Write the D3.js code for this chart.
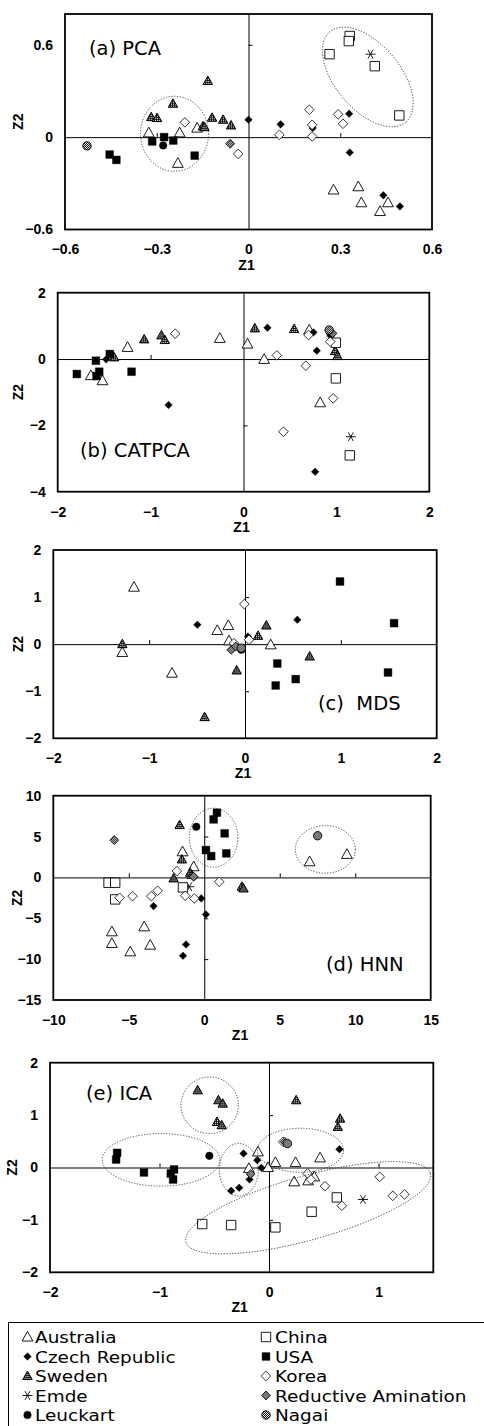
<!DOCTYPE html>
<html>
<head>
<meta charset="utf-8">
<script src="https://cdn.jsdelivr.net/npm/d3@7"></script>
<style>
  body { margin: 0; background: #fff; }
  .tick text { font-family: "Liberation Sans", Arial, sans-serif; font-size: 14px; font-weight: bold; }
</style>
</head>
<body>
<div id="container"></div>
<script>
/* CONSTANTS AND GLOBALS */
const width = 484,
  height = 1426

/* DATA */
const legendLeft = ["Australia", "Czech Republic", "Sweden", "Emde", "Leuckart"]
const legendRight = ["China", "USA", "Korea", "Reductive Amination", "Nagai"]
const drawOrder = ["Australia", "Czech Republic", "Sweden", "Emde", "Leuckart", "China", "USA", "Korea", "Reductive Amination", "Nagai"]

// [series, Z1, Z2]
const pcaPoints = [
  ["Australia", -0.326, 0.028], ["Australia", -0.225, 0.028], ["Australia", -0.168, 0.059], ["Australia", -0.231, -0.17],
  ["Australia", 0.278, -0.343], ["Australia", 0.359, -0.322], ["Australia", 0.369, -0.426], ["Australia", 0.43, -0.483], ["Australia", 0.456, -0.426],
  ["Czech Republic", 0.0, 0.113], ["Czech Republic", 0.105, 0.083], ["Czech Republic", 0.21, 0.06], ["Czech Republic", 0.329, 0.152],
  ["Czech Republic", 0.331, -0.1], ["Czech Republic", 0.441, -0.378], ["Czech Republic", 0.495, -0.45],
  ["Sweden", -0.133, 0.365], ["Sweden", -0.247, 0.217], ["Sweden", -0.318, 0.13], ["Sweden", -0.299, 0.124], ["Sweden", -0.119, 0.126],
  ["Sweden", -0.083, 0.113], ["Sweden", -0.057, 0.076], ["Sweden", -0.149, 0.07], ["Sweden", -0.144, 0.065],
  ["Emde", 0.399, 0.539],
  ["Leuckart", -0.279, -0.054],
  ["China", 0.331, 0.657], ["China", 0.328, 0.624], ["China", 0.265, 0.539], ["China", 0.413, 0.461], ["China", 0.493, 0.141],
  ["USA", -0.454, -0.113], ["USA", -0.432, -0.148], ["USA", -0.315, -0.028], ["USA", -0.276, 0.0], ["USA", -0.246, -0.022], ["USA", -0.176, -0.12],
  ["Korea", -0.208, 0.096], ["Korea", -0.034, -0.109], ["Korea", 0.101, 0.015], ["Korea", 0.199, 0.178], ["Korea", 0.208, 0.08],
  ["Korea", 0.208, 0.004], ["Korea", 0.293, 0.148], ["Korea", 0.309, 0.087],
  ["Reductive Amination", -0.06, -0.043],
  ["Nagai", -0.528, -0.057]
]

const catpcaPoints = [
  ["Australia", -1.248, 0.352], ["Australia", -1.518, -0.653], ["Australia", -1.643, -0.5], ["Australia", -0.255, 0.623],
  ["Australia", 0.043, 0.452], ["Australia", 0.222, -0.01], ["Australia", 0.707, 0.874], ["Australia", 0.825, -1.317],
  ["Czech Republic", -1.478, -0.01], ["Czech Republic", -0.807, -1.387], ["Czech Republic", 0.258, 0.945], ["Czech Republic", 0.753, 0.804],
  ["Czech Republic", 0.789, 0.251], ["Czech Republic", 0.94, 0.693], ["Czech Republic", 0.771, -3.397],
  ["Sweden", -1.392, 0.05], ["Sweden", -1.069, 0.593], ["Sweden", -0.883, 0.714], ["Sweden", -0.847, 0.573],
  ["Sweden", 0.122, 0.925], ["Sweden", 0.545, 0.905], ["Sweden", 0.987, 0.241], ["Sweden", 1.012, 0.09],
  ["Emde", 1.155, -2.342],
  ["Leuckart", 0.93, 0.8],
  ["China", 0.994, 0.492], ["China", 0.994, -0.583], ["China", 1.144, -2.905],
  ["USA", -1.794, -0.452], ["USA", -1.589, -0.05], ["USA", -1.553, -0.382], ["USA", -1.582, -0.513], ["USA", -1.439, 0.151], ["USA", -1.205, -0.382],
  ["Korea", -0.735, 0.764], ["Korea", 0.359, 0.111], ["Korea", 0.671, -0.201], ["Korea", 0.7, 0.724],
  ["Korea", 0.933, 0.523], ["Korea", 0.965, -1.186], ["Korea", 0.43, -2.191],
  ["Reductive Amination", 0.958, 0.774],
  ["Nagai", 0.922, 0.874]
]

const mdsPoints = [
  ["Australia", -1.158, 1.211], ["Australia", -0.289, 0.29], ["Australia", -0.174, 0.396], ["Australia", 0.268, -0.014],
  ["Australia", -0.762, -0.616], ["Australia", -1.28, -0.177], ["Australia", -0.167, 0.071],
  ["Czech Republic", -0.497, 0.411], ["Czech Republic", 0.546, 0.517], ["Czech Republic", 0.031, 0.163],
  ["Sweden", -1.28, 0.0], ["Sweden", -0.421, -1.55], ["Sweden", -0.087, -0.559], ["Sweden", 0.223, 0.396], ["Sweden", 0.136, 0.177], ["Sweden", 0.675, -0.262],
  ["Leuckart", -0.038, -0.12],
  ["USA", 0.991, 1.331], ["USA", 1.555, 0.446], ["USA", 1.492, -0.602], ["USA", 0.337, -0.411], ["USA", 0.529, -0.743], ["USA", 0.32, -0.878],
  ["Korea", -0.007, 0.85], ["Korea", -0.115, 0.021], ["Korea", 0.042, 0.092],
  ["Reductive Amination", -0.143, -0.12], ["Reductive Amination", -0.097, -0.05],
  ["Nagai", -0.038, -0.085]
]

const hnnPoints = [
  ["Australia", -1.44, 3.14], ["Australia", -0.7, 1.31], ["Australia", -6.12, -6.65], ["Australia", -6.12, -8.08], ["Australia", -4.9, -9.1],
  ["Australia", -3.98, -6.04], ["Australia", -3.58, -8.29], ["Australia", 6.98, 1.92], ["Australia", 9.45, 2.82],
  ["Czech Republic", -3.36, -3.51], ["Czech Republic", -0.2, -2.57], ["Czech Republic", 0.11, -4.53], ["Czech Republic", -1.21, -8.2], ["Czech Republic", -1.41, -9.59],
  ["Sweden", -1.63, 6.41], ["Sweden", -1.48, 2.2], ["Sweden", -2.03, -0.12], ["Sweden", -0.93, 0.57], ["Sweden", -0.82, 0.29], ["Sweden", 2.49, -1.14], ["Sweden", 2.6, -1.35],
  ["Emde", -0.99, -1.14],
  ["Leuckart", -0.53, 6.2],
  ["China", -6.34, -0.65], ["China", -5.9, -0.65], ["China", -5.9, -2.69], ["China", -1.41, -1.22],
  ["USA", 0.84, 7.92], ["USA", 0.62, 7.1], ["USA", 1.35, 5.39], ["USA", 0.11, 3.35], ["USA", 0.46, 2.61], ["USA", 1.46, 2.94],
  ["Korea", -5.61, -2.49], ["Korea", -4.75, -2.29], ["Korea", -3.51, -2.29], ["Korea", -3.09, -1.63],
  ["Korea", -1.81, 0.78], ["Korea", -1.26, -2.24], ["Korea", -0.66, -2.57], ["Korea", 0.99, -0.53],
  ["Reductive Amination", -5.96, 4.57], ["Reductive Amination", -0.7, 0.08],
  ["Nagai", 7.51, 5.1]
]

const icaPoints = [
  ["Australia", -0.101, 0.298], ["Australia", -0.184, -0.019], ["Australia", -0.009, 0.0], ["Australia", 0.058, 0.095], ["Australia", 0.242, 0.095],
  ["Australia", 0.466, 0.184], ["Australia", 0.23, -0.273], ["Australia", 0.358, -0.254], ["Australia", 0.413, -0.178],
  ["Czech Republic", -0.233, 0.267], ["Czech Republic", -0.107, 0.14], ["Czech Republic", -0.07, -0.006], ["Czech Republic", -0.178, -0.229],
  ["Czech Republic", -0.346, -0.444], ["Czech Republic", -0.273, -0.387], ["Czech Republic", 0.643, 0.349],
  ["Sweden", -0.652, 1.473], ["Sweden", -0.462, 1.283], ["Sweden", -0.423, 1.219], ["Sweden", -0.475, 0.87], ["Sweden", -0.432, 0.806],
  ["Sweden", 0.248, 1.283], ["Sweden", 0.649, 0.933], ["Sweden", 0.628, 0.775],
  ["Emde", 0.858, -0.61],
  ["Leuckart", -0.545, 0.222],
  ["China", -0.61, -1.079], ["China", -0.346, -1.098], ["China", 0.058, -1.143], ["China", 0.389, -0.844], ["China", 0.619, -0.571],
  ["USA", -1.387, 0.279], ["USA", -1.396, 0.152], ["USA", -1.142, -0.095], ["USA", -0.867, -0.038], ["USA", -0.897, -0.114], ["USA", -0.876, -0.229],
  ["Korea", 0.352, -0.114], ["Korea", 0.383, -0.229], ["Korea", 0.511, -0.356], ["Korea", 0.665, -0.73],
  ["Korea", 1.011, -0.178], ["Korea", 1.13, -0.54], ["Korea", 1.237, -0.514], ["Korea", 0.129, 0.489],
  ["Reductive Amination", -0.168, -0.127], ["Reductive Amination", 0.144, 0.489],
  ["Nagai", 0.168, 0.457]
]

// tick values
const pcaXTicks = [-0.6, -0.3, 0, 0.3, 0.6], pcaYTicks = [-0.6, 0, 0.6]
const catpcaXTicks = [-2, -1, 0, 1, 2], catpcaYTicks = [-4, -2, 0, 2]
const mdsXTicks = [-2, -1, 0, 1, 2], mdsYTicks = [-2, -1, 0, 1, 2]
const hnnXTicks = [-10, -5, 0, 5, 10, 15], hnnYTicks = [-15, -10, -5, 0, 5, 10]
const icaXTicks = [-2, -1, 0, 1], icaYTicks = [-2, -1, 0, 1, 2]

/* PANEL LAYOUT */
const panels = [
  { title: "(a) PCA", pts: pcaPoints, xd: [-0.6, 0.6], yd: [-0.6, 0.8], xt: pcaXTicks, yt: pcaYTicks,
    box: [65, 432, 14, 229.5], tx: 89, ty: 55, z2x: 18,
    rings: [[-0.242, 0.022, 34, 37.5, 0], [0.39, 0.391, 59, 32.5, 50]] },
  { title: "(b) CATPCA", pts: catpcaPoints, xd: [-2, 2], yd: [-4, 2], xt: catpcaXTicks, yt: catpcaYTicks,
    box: [57.7, 429.3, 292.7, 491.7], tx: 80, ty: 457, z2x: 18, rings: [] },
  { title: "(c)  MDS", pts: mdsPoints, xd: [-2, 2], yd: [-2, 2], xt: mdsXTicks, yt: mdsYTicks,
    box: [53.3, 436.7, 550, 738.3], tx: 318, ty: 710, z2x: 18, rings: [] },
  { title: "(d) HNN", pts: hnnPoints, xd: [-10, 15], yd: [-15, 10], xt: hnnXTicks, yt: hnnYTicks,
    box: [53.3, 430.7, 795.7, 1000], tx: 326, ty: 971, z2x: 17,
    rings: [[0.62, 4.86, 24.3, 29.5, 0], [8.02, 3.43, 30, 23.8, 0]] },
  { title: "(e) ICA", pts: icaPoints, xd: [-2, 1.5], yd: [-2, 2], xt: icaXTicks, yt: icaYTicks,
    box: [50, 433.3, 1062.7, 1272.3], tx: 86, ty: 1100, z2x: 12,
    rings: [[-0.542, 1.187, 28.7, 28.3, 0], [-0.986, 0.146, 58.8, 26.3, 0], [-0.276, -0.044, 19.5, 26.3, 0],
            [0.288, 0.33, 43, 22, 0], [0.358, -0.768, 127, 32, -15.7]] }
]

/* MARKER SHAPES */
const triUp = { draw(ctx, r) { ctx.moveTo(0, -r * 1.05); ctx.lineTo(r, r * 0.75); ctx.lineTo(-r, r * 0.75); ctx.closePath() } }
const diamond = { draw(ctx, r) { ctx.moveTo(0, -r); ctx.lineTo(r, 0); ctx.lineTo(0, r); ctx.lineTo(-r, 0); ctx.closePath() } }
const square = { draw(ctx, r) { ctx.rect(-r, -r, 2 * r, 2 * r) } }
const circle = { draw(ctx, r) { ctx.moveTo(r, 0); ctx.arc(0, 0, r, 0, 2 * Math.PI) } }
const asterisk = { draw(ctx, r) {
  for (let k = 0; k < 3; k++) {
    const a = k * Math.PI / 3
    ctx.moveTo(-r * Math.cos(a), -r * Math.sin(a)); ctx.lineTo(r * Math.cos(a), r * Math.sin(a))
  }
} }

const styles = {
  "Australia": { type: triUp, r: 5.4, fill: "#fff", stroke: "#000", sw: 0.9 },
  "Czech Republic": { type: diamond, r: 3.8, fill: "#000", stroke: "#000", sw: 0.4 },
  "Sweden": { type: triUp, r: 4.7, fill: "url(#dots)", stroke: "#000", sw: 1 },
  "Emde": { type: asterisk, r: 5, fill: "none", stroke: "#000", sw: 0.9 },
  "Leuckart": { type: circle, r: 3.8, fill: "#000", stroke: "#000", sw: 0.4 },
  "China": { type: square, r: 4.7, fill: "#fff", stroke: "#000", sw: 0.9 },
  "USA": { type: square, r: 3.9, fill: "#000", stroke: "#000", sw: 0.4 },
  "Korea": { type: diamond, r: 4.8, fill: "#fff", stroke: "#000", sw: 0.8 },
  "Reductive Amination": { type: diamond, r: 4.4, fill: "url(#checks)", stroke: "#000", sw: 0.9 },
  "Nagai": { type: circle, r: 4.2, fill: "url(#checks)", stroke: "#000", sw: 0.9 }
}

/* CREATE SVG ELEMENT */
const svg = d3.select("#container")
  .append("svg")
  .attr("width", width)
  .attr("height", height)

svg.append("rect").attr("width", width).attr("height", height).attr("fill", "#fff")

const defs = svg.append("defs")
const dots = defs.append("pattern").attr("id", "dots")
  .attr("width", 2).attr("height", 2).attr("patternUnits", "userSpaceOnUse")
dots.append("rect").attr("width", 2).attr("height", 2).attr("fill", "#1a1a1a")
dots.append("rect").attr("width", 1).attr("height", 1).attr("fill", "#f0f0f0")
const checks = defs.append("pattern").attr("id", "checks")
  .attr("width", 2).attr("height", 2).attr("patternUnits", "userSpaceOnUse")
checks.append("rect").attr("width", 2).attr("height", 2).attr("fill", "#f4f4f4")
checks.append("rect").attr("width", 1).attr("height", 1).attr("fill", "#000")
checks.append("rect").attr("x", 1).attr("y", 1).attr("width", 1).attr("height", 1).attr("fill", "#000")

function drawMarker(g, name, x, y) {
  const s = styles[name]
  g.append("path")
    .attr("d", d3.symbol().type(s.type).size(s.r)())
    .attr("transform", `translate(${x},${y})`)
    .attr("fill", s.fill)
    .attr("stroke", s.stroke)
    .attr("stroke-width", s.sw)
}

/* PANELS */
panels.forEach(p => {
  const [x0, x1, y0, y1] = p.box

  // SCALES
  const xScale = d3.scaleLinear().domain(p.xd).range([x0, x1])
  const yScale = d3.scaleLinear().domain(p.yd).range([y1, y0])

  const g = svg.append("g")

  // zero lines with small ticks
  const xInner = p.xt.filter(v => v !== 0 && v !== p.xd[0] && v !== p.xd[1])
  const yInner = p.yt.filter(v => v !== 0 && v !== p.yd[0] && v !== p.yd[1])

  g.append("g")
    .attr("transform", `translate(0, ${yScale(0)})`)
    .call(d3.axisTop(xScale).tickValues(xInner).tickSize(4).tickSizeOuter(0).tickFormat(""))
    .call(a => a.selectAll("path,line").attr("stroke", "#000").attr("stroke-width", 1))

  g.append("g")
    .attr("transform", `translate(${xScale(0)}, 0)`)
    .call(d3.axisRight(yScale).tickValues(yInner).tickSize(4).tickSizeOuter(0).tickFormat(""))
    .call(a => a.selectAll("path,line").attr("stroke", "#000").attr("stroke-width", 1))

  // tick labels
  g.append("g")
    .attr("transform", `translate(0, ${y1})`)
    .call(d3.axisBottom(xScale).tickValues(p.xt).tickSize(0).tickPadding(15).tickFormat(d3.format("")))
    .call(a => a.select(".domain").remove())
    .call(a => a.selectAll("text").attr("fill", "#000"))

  g.append("g")
    .attr("transform", `translate(${x0}, 0)`)
    .call(d3.axisLeft(yScale).tickValues(p.yt).tickSize(0).tickPadding(12).tickFormat(d3.format("")))
    .call(a => a.select(".domain").remove())
    .call(a => a.selectAll("text").attr("fill", "#000"))

  // frame
  g.append("rect")
    .attr("x", x0).attr("y", y0)
    .attr("width", x1 - x0).attr("height", y1 - y0)
    .attr("fill", "none").attr("stroke", "#000").attr("stroke-width", 1.8)

  // axis titles
  g.append("text")
    .attr("x", (x0 + x1) / 2 - 2)
    .attr("y", y1 + 40)
    .attr("text-anchor", "middle")
    .attr("font-family", "Liberation Sans, Arial, sans-serif")
    .attr("font-size", 14).attr("font-weight", "bold")
    .text("Z1")

  g.append("text")
    .attr("transform", `translate(${p.z2x + 5}, ${(y0 + y1) / 2}) rotate(-90)`)
    .attr("text-anchor", "middle")
    .attr("font-family", "Liberation Sans, Arial, sans-serif")
    .attr("font-size", 14).attr("font-weight", "bold")
    .text("Z2")

  // panel title
  g.append("text")
    .attr("x", p.tx).attr("y", p.ty)
    .attr("font-family", "DejaVu Sans, sans-serif")
    .attr("font-size", 19.5)
    .style("white-space", "pre")
    .text(p.title)

  // points
  const pts = g.append("g")
  drawOrder.forEach(name => {
    p.pts.filter(d => d[0] === name).forEach(d => drawMarker(pts, name, xScale(d[1]), yScale(d[2])))
  })

  // dotted group outlines
  g.selectAll(".ring")
    .data(p.rings)
    .join("ellipse")
    .attr("class", "ring")
    .attr("transform", d => `translate(${xScale(d[0])},${yScale(d[1])}) rotate(${d[4]})`)
    .attr("rx", d => d[2]).attr("ry", d => d[3])
    .attr("fill", "none")
    .attr("stroke", "#333")
    .attr("stroke-width", 0.9)
    .attr("stroke-dasharray", "1.2,1.6")
})

/* LEGEND */
svg.append("rect")
  .attr("x", 8.5).attr("y", 1322.5)
  .attr("width", 490).attr("height", 120)
  .attr("fill", "none").attr("stroke", "#000").attr("stroke-width", 1)

const legendRow = d3.scaleLinear().domain([0, 4]).range([1343, 1421])

function legendColumn(names, symX, textX) {
  names.forEach((name, i) => {
    drawMarker(svg, name, symX, legendRow(i) - 6)
    svg.append("text")
      .attr("transform", `translate(${textX}, ${legendRow(i)}) scale(1.12, 1)`)
      .attr("font-family", "DejaVu Sans, sans-serif")
      .attr("font-size", 16.5)
      .text(name)
  })
}
legendColumn(legendLeft, 27.5, 35)
legendColumn(legendRight, 266, 275)
</script>
</body>
</html>
